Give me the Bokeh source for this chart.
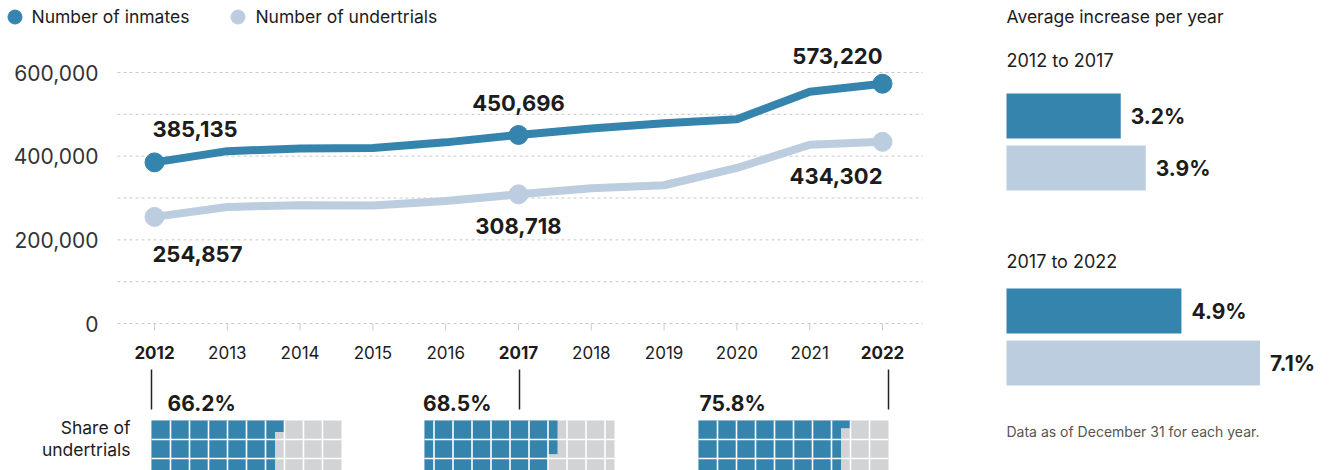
import numpy as np
from bokeh.plotting import figure
from bokeh.models import Range1d, Legend, LegendItem, Label
from bokeh.layouts import row
from bokeh.embed import file_html
from bokeh.resources import INLINE
from bokeh.core.properties import value

# ---------------- data ----------------
years = [2012, 2013, 2014, 2015, 2016, 2017, 2018, 2019, 2020, 2021, 2022]
inmates = [385135, 411992, 418536, 419623, 433003, 450696, 466084, 478600, 488511, 554034, 573220]
undertrials = [254857, 278503, 282879, 282076, 293058, 308718, 323537, 330487, 371848, 427165, 434302]
highlight_years = [2012, 2017, 2022]
y_ticks = [0, 200000, 400000, 600000]
grid_values = [0, 100000, 200000, 300000, 400000, 500000, 600000]
series_names = ["Number of inmates", "Number of undertrials"]
share_undertrials = [66.2, 68.5, 75.8]
periods = ["2012 to 2017", "2017 to 2022"]
avg_inc_inmates = [3.2, 4.9]
avg_inc_undertrials = [3.9, 7.1]

# ---------------- style / layout ----------------
DARK = "#3584ad"
LIGHT = "#bdcde0"
GREY = "#d1d3d5"
TXT = "#1c1c1c"
FONT = "Inter"

W_L, W_R, H = 990, 345, 470
X_FIRST_PX, X_LAST_PX = 154, 882      # pixel position of first / last year
Y0_PX, YTOP_PX = 323, 72              # pixel position of 0 and of 600,000
GRID_X0_PX, GRID_X1_PX = 117, 922
xpp = (years[-1] - years[0]) / (X_LAST_PX - X_FIRST_PX)
ypp = y_ticks[-1] / (Y0_PX - YTOP_PX)

# ---------------- left figure: line chart + waffles ----------------
p = figure(width=W_L, height=H,
           x_range=Range1d(years[0] - X_FIRST_PX * xpp, years[0] + (W_L - X_FIRST_PX) * xpp),
           y_range=Range1d(-(H - Y0_PX) * ypp, Y0_PX * ypp),
           output_backend="svg", toolbar_location=None, min_border=0,
           x_axis_location=None, y_axis_location=None)
p.extra_x_ranges = {"px": Range1d(0, W_L)}
p.extra_y_ranges = {"py": Range1d(H, 0)}
p.outline_line_color = None
p.grid.visible = False

# gridlines (dashed, every 100,000)
n = len(grid_values)
p.segment(x0=[GRID_X0_PX] * n, x1=[GRID_X1_PX] * n, y0=grid_values, y1=grid_values,
          x_range_name="px", line_color="#c8c8c8", line_width=1, line_dash="3 3")
# y tick labels
p.text(x=[98] * len(y_ticks), y=y_ticks, text=[f"{v:,}" for v in y_ticks], x_range_name="px",
       text_align="right", text_baseline="middle", text_font=value(FONT),
       text_font_size="21px", text_color="#333333")
# x ticks
p.segment(x0=years, x1=years, y0=[0] * len(years), y1=[-7 * ypp] * len(years),
          line_color="#cccccc", line_width=1)
# x tick labels
normal_years = [y for y in years if y not in highlight_years]
p.text(x=normal_years, y=[352] * len(normal_years), text=[str(y) for y in normal_years],
       y_range_name="py", text_align="center", text_baseline="middle",
       text_font=value(FONT), text_font_size="17px", text_color=TXT)
p.text(x=highlight_years, y=[352] * len(highlight_years), text=[str(y) for y in highlight_years],
       y_range_name="py", text_align="center", text_baseline="middle",
       text_font=value(FONT), text_font_size="17px", text_font_style="bold", text_color=TXT)

# lines + markers
p.line(years, undertrials, line_width=8, color=LIGHT, line_join="round", line_cap="round")
p.line(years, inmates, line_width=8, color=DARK, line_join="round", line_cap="round")
idx = [years.index(y) for y in highlight_years]
hl_inm = [inmates[i] for i in idx]
hl_und = [undertrials[i] for i in idx]
m1 = p.scatter(highlight_years, hl_inm, size=19, color=DARK)
m2 = p.scatter(highlight_years, hl_und, size=19, color=LIGHT)

aligns = ["left", "center", "right"]
x_offs = [-2, 0, 0]
inm_offs = [33, 32, 28]
und_offs = [-37, -32, -34]
for k, yr in enumerate(highlight_years):
    p.add_layout(Label(x=yr, y=hl_inm[k], x_offset=x_offs[k], y_offset=inm_offs[k],
                       text=f"{hl_inm[k]:,}", text_align=aligns[k], text_baseline="middle",
                       text_font=FONT, text_font_size="22px", text_font_style="bold",
                       text_color=TXT))
    p.add_layout(Label(x=yr, y=hl_und[k], x_offset=x_offs[k], y_offset=und_offs[k],
                       text=f"{hl_und[k]:,}", text_align=aligns[k], text_baseline="middle",
                       text_font=FONT, text_font_size="22px", text_font_style="bold",
                       text_color=TXT))

legend = Legend(items=[LegendItem(label=value(series_names[0]), renderers=[m1]),
                       LegendItem(label=value(series_names[1]), renderers=[m2])],
                orientation="horizontal", location=(-3.5, H - 33.5),
                glyph_width=35, glyph_height=35, label_standoff=0, spacing=31,
                padding=0, margin=0, border_line_color=None, background_fill_alpha=0,
                label_text_font=FONT, label_text_font_size="17.5px", label_text_color=TXT)
p.add_layout(legend)

# waffles (share of undertrials)
CELL = 19
NCOL = 10
NROW = 10
TOP = 420
STRIP = CELL / 2
STRIP_PCT = 5
PARTIAL_H = 48
anchors = [151, 519, 888]
anchor_shift = [0, NCOL * CELL / 2, NCOL * CELL]
grid_offset = [0, CELL / 2, 0]
pct_label_dx = [16, -28, -189]
pct_label_align = ["left", "right", "left"]
WW = NCOL * CELL
wk = dict(x_range_name="px", y_range_name="py")

for i, s in enumerate(share_undertrials):
    L = anchors[i] - anchor_shift[i]
    p.quad(left=[L], right=[L + WW], top=[TOP], bottom=[TOP + NROW * CELL],
           color=GREY, line_color=None, **wk)
    nfull = int(s // STRIP_PCT)
    rem = s - nfull * STRIP_PCT
    xf = L + nfull * STRIP
    p.quad(left=[L], right=[xf], top=[TOP], bottom=[TOP + NROW * CELL],
           color=DARK, line_color=None, **wk)
    p.quad(left=[xf], right=[xf + STRIP], top=[TOP], bottom=[TOP + rem / STRIP_PCT * PARTIAL_H],
           color=DARK, line_color=None, **wk)
    vx = [L + grid_offset[i] + CELL * k for k in range(NCOL + 1)]
    vx = [x for x in vx if L < x < L + WW]
    p.segment(x0=vx, y0=[TOP] * len(vx), x1=vx, y1=[TOP + NROW * CELL] * len(vx),
              line_color="white", line_width=1.6, **wk)
    hy = [TOP + CELL * k for k in range(1, NROW)]
    p.segment(x0=[L] * len(hy), y0=hy, x1=[L + WW] * len(hy), y1=hy,
              line_color="white", line_width=1.6, **wk)
    p.text(x=[anchors[i] + pct_label_dx[i]], y=[403], text=[f"{s}%"],
           text_align=pct_label_align[i], text_baseline="middle", text_font=value(FONT),
           text_font_size="21px", text_font_style="bold", text_color=TXT, **wk)

p.segment(x0=anchors, y0=[369] * 3, x1=anchors, y1=[409] * 3,
          line_color="#222222", line_width=1.5, **wk)
p.text(x=[130, 130], y=[427, 449], text=["Share of", "undertrials"], text_align="right",
       text_baseline="middle", text_font=value(FONT), text_font_size="17.5px",
       text_color=TXT, **wk)

# ---------------- right panel: average increase ----------------
PX_PER_PCT = 35.7
BAR_X0 = 16
r = figure(width=W_R, height=H,
           x_range=Range1d(-BAR_X0 / PX_PER_PCT, (W_R - BAR_X0) / PX_PER_PCT),
           y_range=Range1d(H, 0),
           output_backend="svg", toolbar_location=None, min_border=0,
           x_axis_location=None, y_axis_location=None)
r.outline_line_color = None
r.grid.visible = False

BAR_H = 45
group_center = [115.5, 310.5]
pair_gap = 52
period_label_y = [60, 261]

yd = group_center
yl = [g + pair_gap for g in group_center]
r.hbar(y=yd, left=0, right=avg_inc_inmates, height=BAR_H, color=DARK, line_color=None)
r.hbar(y=yl, left=0, right=avg_inc_undertrials, height=BAR_H, color=LIGHT, line_color=None)
r.text(x=avg_inc_inmates, y=yd, text=[f"{v}%" for v in avg_inc_inmates], x_offset=10,
       text_baseline="middle", text_font=value(FONT), text_font_size="21px",
       text_font_style="bold", text_color=TXT)
r.text(x=avg_inc_undertrials, y=yl, text=[f"{v}%" for v in avg_inc_undertrials], x_offset=10,
       text_baseline="middle", text_font=value(FONT), text_font_size="21px",
       text_font_style="bold", text_color=TXT)
r.text(x=[0], y=[16], text=["Average increase per year"], text_baseline="middle",
       text_font=value(FONT), text_font_size="17.5px", text_color=TXT)
r.text(x=[0, 0], y=period_label_y, text=periods, text_baseline="middle",
       text_font=value(FONT), text_font_size="18px", text_color=TXT)
r.text(x=[0], y=[431], text=["Data as of December 31 for each year."], text_baseline="middle",
       text_font=value(FONT), text_font_size="14px", text_color="#555555")

layout = row(p, r)
open("out.html", "w").write(file_html(layout, INLINE))
